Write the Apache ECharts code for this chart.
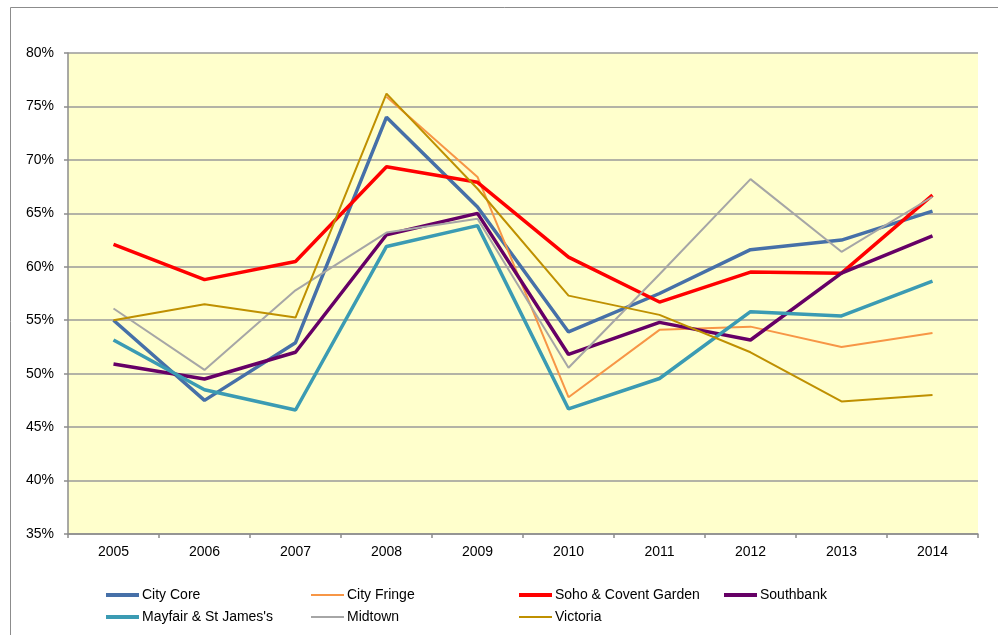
<!DOCTYPE html>
<html>
<head>
<meta charset="utf-8">
<script src="https://cdn.jsdelivr.net/npm/echarts@6/dist/echarts.min.js"></script>
<style>
    html, body { margin: 0; padding: 0; background: #fff; }
    #chart { width: 998px; height: 635px; }
</style>
</head>
<body>
<div id="chart"></div>
<script>
// 年份
var years = ['2005', '2006', '2007', '2008', '2009', '2010', '2011', '2012', '2013', '2014'];

// 各区域数值 (%)
var cityCore = [55.0, 47.5, 52.9, 74.0, 65.6, 53.9, 57.5, 61.6, 62.5, 65.2];
var cityFringe = [null, null, null, 75.9, 68.4, 47.8, 54.1, 54.4, 52.5, 53.8];
var soho = [62.1, 58.8, 60.5, 69.35, 67.9, 60.9, 56.7, 59.5, 59.4, 66.7];
var southbank = [50.9, 49.5, 52.0, 63.0, 65.0, 51.8, 54.8, 53.15, 59.4, 62.9];
var mayfair = [53.15, 48.5, 46.6, 61.9, 63.85, 46.7, 49.55, 55.8, 55.4, 58.65];
var midtown = [56.1, 50.35, 57.8, 63.2, 64.5, 50.55, 59.3, 68.2, 61.4, 66.55];
var victoria = [55.0, 56.5, 55.25, 76.2, 67.3, 57.3, 55.5, 52.0, 47.4, 48.0];

var myChart;

function lineSeries(name, data, color, width) {
    return {
        name: name,
        type: 'line',
        data: data,
        symbol: 'none',
        connectNulls: false,
        lineStyle: { color: color, width: width },
        itemStyle: { color: color },
        emphasis: { disabled: true }
    };
}

// 图例项, 粗线/细线
function legendItem(name, width) {
    return { name: name, lineStyle: { width: width } };
}

// 图例按列排布
function columnLegend(left, items) {
    return {
        orient: 'vertical',
        left: left,
        top: 588,
        padding: 0,
        itemWidth: 33,
        itemHeight: 14,
        itemGap: 8,
        itemStyle: { opacity: 0 },
        textStyle: { fontFamily: 'Liberation Sans', fontSize: 14, color: '#000', padding: [0, 0, 0, -2] },
        data: items
    };
}

window.onload = function () {
    myChart = echarts.init(document.getElementById('chart'));

    var option = {
        animation: false,
        backgroundColor: '#fff',
        textStyle: { fontFamily: 'Liberation Sans' },
        graphic: [{
            type: 'rect',
            shape: { x: 10.5, y: 7.5, width: 1000, height: 700 },
            style: { fill: 'none', stroke: '#8c8c8c', lineWidth: 1 },
            silent: true
        }],
        legend: [
            columnLegend(104, [legendItem('City Core', 4), legendItem('Mayfair & St James\'s', 4)]),
            columnLegend(310, [legendItem('City Fringe', 2), legendItem('Midtown', 2)]),
            columnLegend(517, [legendItem('Soho & Covent Garden', 4), legendItem('Victoria', 2)]),
            columnLegend(722, [legendItem('Southbank', 4)])
        ],
        grid: {
            left: 68,
            top: 53,
            right: 20,
            bottom: 101,
            show: true,
            backgroundColor: '#FFFFCC',
            borderWidth: 0
        },
        xAxis: {
            type: 'category',
            data: years,
            boundaryGap: true,
            axisLine: { lineStyle: { color: '#8c8c8c', width: 1.5 } },
            axisTick: { show: true, length: 4, lineStyle: { color: '#8c8c8c', width: 1.5 } },
            axisLabel: { color: '#000', fontSize: 14, margin: 11 },
            splitLine: { show: false }
        },
        yAxis: {
            type: 'value',
            min: 35,
            max: 80,
            interval: 5,
            axisLine: { show: true, lineStyle: { color: '#8c8c8c', width: 1.5 } },
            axisTick: { show: true, length: 4, lineStyle: { color: '#8c8c8c', width: 1.5 } },
            axisLabel: { color: '#000', fontSize: 14, margin: 14, formatter: '{value}%' },
            splitLine: { show: true, lineStyle: { color: '#9a9a9a', width: 1.5 } }
        },
        series: [
            lineSeries('City Core', cityCore, '#4670A8', 3.5),
            lineSeries('City Fringe', cityFringe, '#F79646', 2),
            lineSeries('Soho & Covent Garden', soho, '#FF0000', 3.5),
            lineSeries('Southbank', southbank, '#660066', 3.5),
            lineSeries('Mayfair & St James\'s', mayfair, '#3B9BB3', 3.5),
            lineSeries('Midtown', midtown, '#A6A6A6', 2),
            lineSeries('Victoria', victoria, '#BF9000', 2)
        ]
    };

    myChart.setOption(option);
};
</script>
</body>
</html>
